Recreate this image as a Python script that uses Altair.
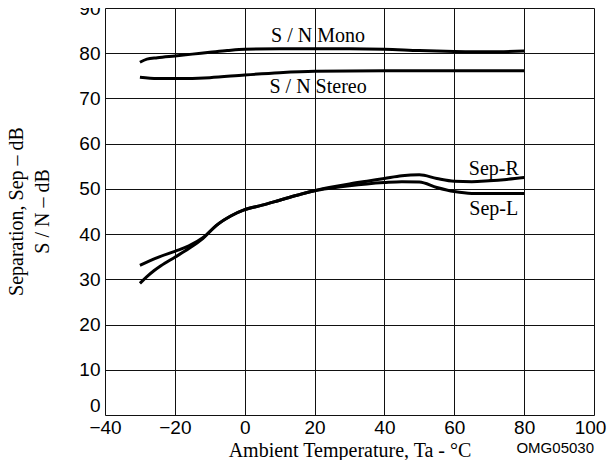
import altair as alt
import pandas as pd

# ---- data ----
mono_temp = [-30, -28, -25, -20, -15, -10, -5, 0, 10, 20, 30, 40, 50, 60, 70, 80]
mono_val = [78.0, 78.7, 79.0, 79.4, 79.8, 80.2, 80.6, 80.9, 81.0, 81.0, 81.0, 80.9, 80.6, 80.4, 80.3, 80.5]

stereo_temp = [-30, -25, -20, -10, 0, 10, 20, 40, 60, 80]
stereo_val = [74.7, 74.4, 74.4, 74.6, 75.2, 75.7, 76.0, 76.1, 76.1, 76.1]

sep_r_temp = [-30, -28, -25, -20, -16, -12, -8, -4, 0, 5, 10, 15, 20, 25,
              30, 35, 40, 45, 50, 55, 60, 65, 70, 75, 80]
sep_r_val = [33.1, 33.8, 34.8, 36.2, 37.4, 39.2, 42.0, 44.0, 45.4, 46.4, 47.5, 48.6, 49.6, 50.4,
             51.1, 51.7, 52.3, 52.9, 53.1, 52.3, 51.7, 51.6, 51.8, 52.1, 52.5]

sep_l_temp = [-30, -28, -26, -24, -20, -16, -12, -8, -4, 0, 5, 10, 15, 20, 25,
              30, 35, 40, 45, 50, 55, 60, 65, 70, 75, 80]
sep_l_val = [29.1, 30.6, 31.9, 33.0, 34.9, 36.8, 39.0, 42.0, 44.0, 45.4, 46.4, 47.5, 48.6, 49.6, 50.2,
             50.7, 51.1, 51.4, 51.6, 51.5, 50.3, 49.4, 49.0, 49.0, 49.0, 49.0]

label_text = ["S / N Mono", "S / N Stereo", "Sep-R", "Sep-L"]
label_temp = [21, 21, 71.3, 71.3]
label_val = [82.5, 71.2, 53.1, 44.2]

x_ticks = [-40, -20, 0, 20, 40, 60, 80, 100]
y_ticks = [0, 10, 20, 30, 40, 50, 60, 70, 80, 90]

rows = []
for name, ts, vs in [("S/N Mono", mono_temp, mono_val),
                     ("S/N Stereo", stereo_temp, stereo_val),
                     ("Sep-R", sep_r_temp, sep_r_val),
                     ("Sep-L", sep_l_temp, sep_l_val)]:
    for t, v in zip(ts, vs):
        rows.append({"series": name, "temp": t, "value": v})
df = pd.DataFrame(rows)
labels = pd.DataFrame({"text": label_text, "temp": label_temp, "value": label_val})

SANS = "Liberation Sans"
SERIF = "Liberation Serif"

x_enc = alt.X("temp:Q",
              scale=alt.Scale(domain=[-40, 100], nice=False, zero=False),
              axis=alt.Axis(values=x_ticks, title="Ambient Temperature,  Ta - °C",
                            titleFont=SERIF, titleFontSize=20, titleFontWeight="normal",
                            titleColor="black", titleBaseline="alphabetic", titleY=41,
                            labelFont=SANS, labelFontSize=19, labelColor="black",
                            labelPadding=3, labelFlush=False, ticks=False, domain=False,
                            labelOffset={"condition": {"test": "datum.value == 100", "value": -4},
                                         "value": 0},
                            grid=True, gridColor="#111111", gridWidth=1))
y_enc = alt.Y("value:Q",
              scale=alt.Scale(domain=[0, 90], nice=False),
              axis=alt.Axis(values=y_ticks, title=["Separation, Sep – dB", "S / N – dB"],
                            titleFont=SERIF, titleFontSize=20, titleFontWeight="normal",
                            titleColor="black", titleAngle=270, titleBaseline="alphabetic",
                            titleAlign="center", titleX=-83, titleY=203, titleLineHeight=26,
                            labelFont=SANS, labelFontSize=19, labelColor="black",
                            labelPadding=5, labelFlush=False, ticks=False, domain=False,
                            labelBaseline={"condition": {"test": "datum.value == 0", "value": "bottom"},
                                           "value": "middle"},
                            grid=True, gridColor="#111111", gridWidth=1))

lines = alt.Chart(df).mark_line(color="black", strokeWidth=3, interpolate="monotone",
                                strokeCap="butt").encode(
    x=x_enc, y=y_enc, detail="series:N")

texts = alt.Chart(labels).mark_text(font=SERIF, fontSize=20, color="black",
                                    align="center", baseline="alphabetic").encode(
    x="temp:Q", y="value:Q", text="text:N")

code = alt.Chart(pd.DataFrame({"t": ["OMG05030"]})).mark_text(
    font=SANS, fontSize=15, color="black", align="right", baseline="alphabetic").encode(
    x=alt.value(489), y=alt.value(445), text="t:N")

chart = alt.layer(lines, texts, code).properties(
    width=489, height=407,
    autosize=alt.AutoSizeParams(type="none"),
    padding={"left": 97, "top": 0, "right": 13, "bottom": 45},
).configure_view(stroke="black", strokeWidth=2).configure(background="white")

chart.save("out.html", embed_options={"renderer": "svg", "actions": False})
